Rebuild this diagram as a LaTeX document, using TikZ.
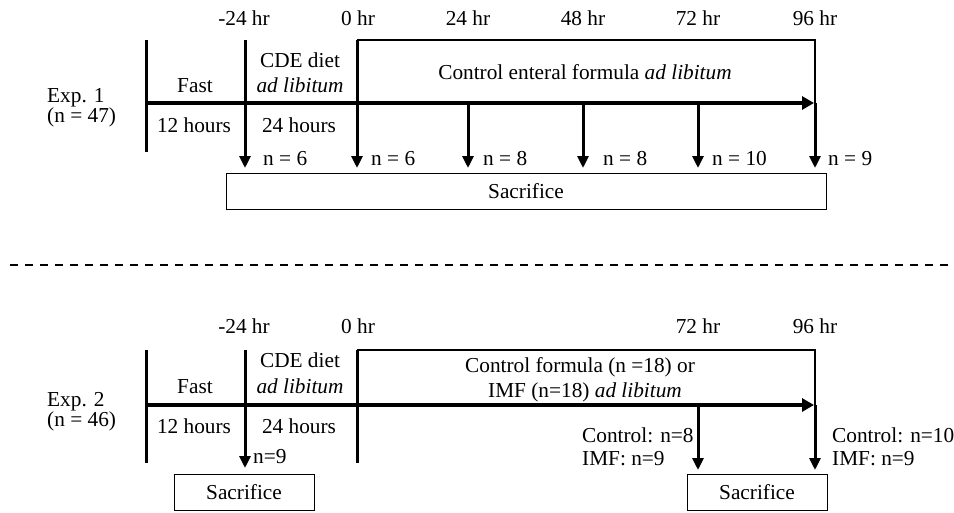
\documentclass[tikz,border=0pt]{standalone}
\usepackage{fontspec}
\setmainfont{Liberation Serif}
\usetikzlibrary{arrows.meta}
\begin{document}
\begin{tikzpicture}[x=1pt,y=-1pt,
  txt/.style={inner sep=0pt, font=\fontsize{21.3}{24}\selectfont},
  vline/.style={line width=3pt},
  axisln/.style={line width=4pt, -{Triangle[width=13pt,length=12pt]}},
  thinln/.style={line width=1.2pt},
  darrow/.style={line width=3pt, -{Triangle[width=11pt,length=12pt]}},
  sacbox/.style={draw, line width=1pt, inner sep=0pt, text height=14pt, text depth=0pt,
     font=\fontsize{21.3}{24}\selectfont},
  dashln/.style={line width=1.3pt, dash pattern=on 8pt off 7pt}
]
\useasboundingbox (0,0) rectangle (954,512);

% ---------------- Experiment 1 ----------------
\node[txt, anchor=base west] (e1a) at (47,102) {Exp. 1};
\node[txt, anchor=base west] (e1b) at (47,122) {(n = 47)};

\node[txt, anchor=base] (t1m24) at (244,25) {-24 hr};
\node[txt, anchor=base] (t10) at (358,25) {0 hr};
\node[txt, anchor=base] (t124) at (468,25) {24 hr};
\node[txt, anchor=base] (t148) at (583,25) {48 hr};
\node[txt, anchor=base] (t172) at (698,25) {72 hr};
\node[txt, anchor=base] (t196) at (815,25) {96 hr};

\node[txt, anchor=base] (f1) at (195,92) {Fast};
\node[txt, anchor=base] (h1a) at (194,132) {12 hours};
\node[txt, anchor=base] (c1a) at (300,67) {CDE diet};
\node[txt, anchor=base] (c1b) at (300,92) {\itshape ad libitum};
\node[txt, anchor=base] (h1b) at (299,132) {24 hours};
\node[txt, anchor=base] (cf1) at (585,79) {Control enteral formula \textit{ad libitum}};

\coordinate (p1L0) at (146,40);  \coordinate (p1L1) at (146,152);
\coordinate (p1A0) at (245,40);  \coordinate (p1A1) at (245,168);
\coordinate (p1B0) at (357,40);  \coordinate (p1B1) at (357,168);
\coordinate (p1ax0) at (146,103); \coordinate (p1ax1) at (814,103);
\coordinate (p1E0) at (815,40);  \coordinate (p1Em) at (815,103); \coordinate (p1E1) at (815,168);
\coordinate (p1C0) at (468,103); \coordinate (p1C1) at (468,168);
\coordinate (p1D0) at (583,103); \coordinate (p1D1) at (583,168);
\coordinate (p1F0) at (698,103); \coordinate (p1F1) at (698,168);

\draw[thinln] (p1B0) -- (p1E0) -- (p1Em);
\draw[vline] (p1L0) -- (p1L1);
\draw[darrow] (p1A0) -- (p1A1);
\draw[darrow] (p1B0) -- (p1B1);
\draw[axisln] (p1ax0) -- (p1ax1);
\draw[darrow] (p1C0) -- (p1C1);
\draw[darrow] (p1D0) -- (p1D1);
\draw[darrow] (p1F0) -- (p1F1);
\draw[darrow] (p1Em) -- (p1E1);

\node[txt, anchor=base west] (n1a) at (263,165) {n = 6};
\node[txt, anchor=base west] (n1b) at (371,165) {n = 6};
\node[txt, anchor=base west] (n1c) at (483,165) {n = 8};
\node[txt, anchor=base west] (n1d) at (603,165) {n = 8};
\node[txt, anchor=base west] (n1e) at (712,165) {n = 10};
\node[txt, anchor=base west] (n1f) at (828,165) {n = 9};

\node[sacbox, minimum width=600pt, minimum height=36pt] (s1) at (526,191) {Sacrifice};

% ---------------- separator ----------------
\coordinate (dl0) at (10,265); \coordinate (dl1) at (954,265);
\draw[dashln] (dl0) -- (dl1);

% ---------------- Experiment 2 ----------------
\node[txt, anchor=base west] (e2a) at (47,406) {Exp. 2};
\node[txt, anchor=base west] (e2b) at (47,426) {(n = 46)};

\node[txt, anchor=base] (t2m24) at (244,333) {-24 hr};
\node[txt, anchor=base] (t20) at (358,333) {0 hr};
\node[txt, anchor=base] (t272) at (698,333) {72 hr};
\node[txt, anchor=base] (t296) at (815,333) {96 hr};

\node[txt, anchor=base] (f2) at (195,393) {Fast};
\node[txt, anchor=base] (h2a) at (194,433) {12 hours};
\node[txt, anchor=base] (c2a) at (300,367) {CDE diet};
\node[txt, anchor=base] (c2b) at (300,393) {\itshape ad libitum};
\node[txt, anchor=base] (h2b) at (299,433) {24 hours};
\node[txt, anchor=base] (cf2a) at (580,372) {Control formula (n =18) or};
\node[txt, anchor=base] (cf2b) at (585,397) {IMF (n=18) \textit{ad libitum}};

\coordinate (p2L0) at (146,350);  \coordinate (p2L1) at (146,463);
\coordinate (p2A0) at (245,350);  \coordinate (p2A1) at (245,468);
\coordinate (p2B0) at (357,350);  \coordinate (p2B1) at (357,463);
\coordinate (p2ax0) at (146,405); \coordinate (p2ax1) at (814,405);
\coordinate (p2E0) at (815,350);  \coordinate (p2Em) at (815,405); \coordinate (p2E1) at (815,470);
\coordinate (p2F0) at (698,405);  \coordinate (p2F1) at (698,470);

\draw[thinln] (p2B0) -- (p2E0) -- (p2Em);
\draw[vline] (p2L0) -- (p2L1);
\draw[darrow] (p2A0) -- (p2A1);
\draw[vline] (p2B0) -- (p2B1);
\draw[axisln] (p2ax0) -- (p2ax1);
\draw[darrow] (p2F0) -- (p2F1);
\draw[darrow] (p2Em) -- (p2E1);

\node[txt, anchor=base west] (n2a) at (253,463) {n=9};
\node[txt, anchor=base west] (n2b) at (582,442) {Control: n=8};
\node[txt, anchor=base west] (n2c) at (582,465) {IMF: n=9};
\node[txt, anchor=base west] (n2d) at (832,442) {Control: n=10};
\node[txt, anchor=base west] (n2e) at (832,465) {IMF: n=9};

\node[sacbox, minimum width=140pt, minimum height=36pt] (s2a) at (244,492) {Sacrifice};
\node[sacbox, minimum width=140pt, minimum height=36pt] (s2b) at (757,492) {Sacrifice};
\end{tikzpicture}
\end{document}
